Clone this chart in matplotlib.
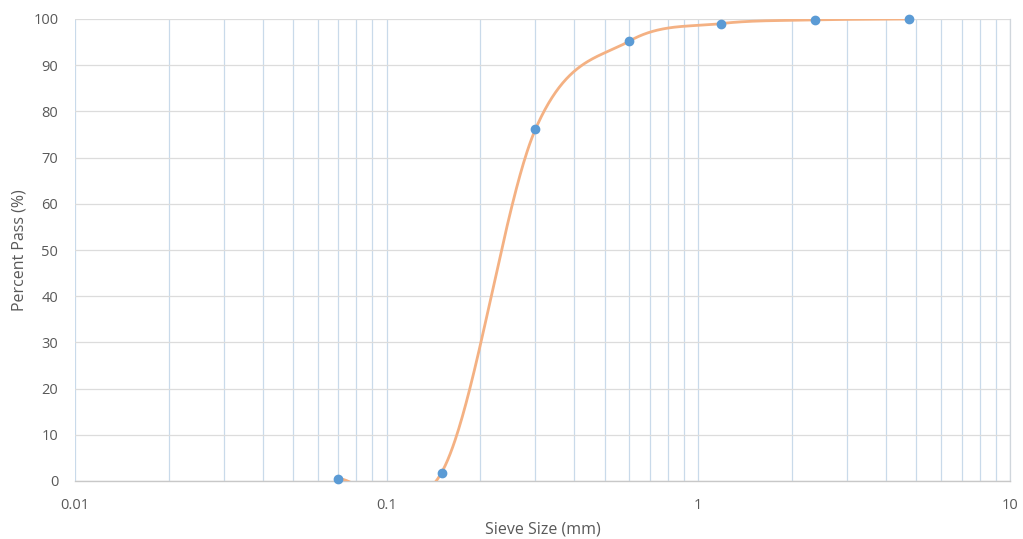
import numpy as np
import matplotlib
matplotlib.use("Agg")
import matplotlib.pyplot as plt
from matplotlib.ticker import FixedLocator, LogLocator, NullFormatter

plt.rcParams['font.family'] = ['Open Sans', 'DejaVu Sans']

# Data
sieve_mm = [0.07, 0.15, 0.3, 0.6, 1.18, 2.36, 4.75]
percent_pass = [0.5, 1.8, 76.1, 95.2, 99.0, 99.8, 100.0]
x_tick_values = [0.01, 0.1, 1, 10]
x_tick_labels = ["0.01", "0.1", "1", "10"]
y_tick_values = list(range(0, 101, 10))


def excel_smooth(xs, ys, n=80, t=1/6):
    u = np.log10(np.asarray(xs, float))
    v = np.asarray(ys, float)
    P = np.column_stack([u, v])
    m = len(P)
    out = []
    for i in range(m - 1):
        p0 = P[i]
        p3 = P[i + 1]
        pm = P[i - 1] if i > 0 else P[i]
        pp = P[i + 2] if i + 2 < m else P[i + 1]
        c1 = p0 + (p3 - pm) * t
        c2 = p3 - (pp - p0) * t
        s = np.linspace(0, 1, n)[:, None]
        seg = ((1 - s) ** 3) * p0 + 3 * s * (1 - s) ** 2 * c1 + 3 * s ** 2 * (1 - s) * c2 + s ** 3 * p3
        out.append(seg if i == 0 else seg[1:])
    out = np.vstack(out)
    return 10 ** out[:, 0], out[:, 1]


fig = plt.figure(figsize=(10.23, 5.39), dpi=100)
ax = fig.add_axes([75 / 1023, 1 - 481 / 539, (1010 - 75) / 1023, (481 - 19) / 539])

ax.set_xscale('log')
ax.set_xlim(0.01, 10)
ax.set_ylim(0, 100)

sx, sy = excel_smooth(sieve_mm, percent_pass)
ax.plot(sx, sy, color='#F4B183', lw=2.0, solid_capstyle='round', zorder=3)
ax.plot(sieve_mm, percent_pass, linestyle='none', marker='o', markersize=6,
        color='#5B9BD5', markeredgecolor='#5B9BD5', zorder=4, clip_on=False)

# gridlines
ax.xaxis.set_major_locator(FixedLocator(x_tick_values))
ax.set_xticklabels(x_tick_labels)
ax.xaxis.set_minor_locator(LogLocator(base=10, subs=np.arange(2, 10), numticks=20))
ax.xaxis.set_minor_formatter(NullFormatter())
ax.set_yticks(y_tick_values)

ax.grid(True, which='major', axis='x', color='#C9DAEA', lw=0.9)
ax.grid(True, which='minor', axis='x', color='#C9DAEA', lw=0.9)
ax.grid(True, which='major', axis='y', color='#DCDCDC', lw=0.9)
ax.set_axisbelow(True)

for sp in ['top', 'right', 'left']:
    ax.spines[sp].set_visible(False)
ax.spines['right'].set_visible(True)
ax.spines['right'].set_color('#D0D6DC')
ax.spines['right'].set_linewidth(0.9)
ax.spines['bottom'].set_color('#C8C8C8')
ax.spines['bottom'].set_linewidth(1.0)

ax.tick_params(axis='both', which='both', length=0, labelsize=10.5, labelcolor='#595959')
ax.tick_params(axis='x', pad=12)
ax.tick_params(axis='y', pad=12)

ax.set_xlabel('Sieve Size (mm)', fontsize=11.5, color='#595959', labelpad=6)
ax.set_ylabel('Percent Pass (%)', fontsize=11.5, color='#595959', labelpad=4)

fig.savefig('out.png', dpi=100)
